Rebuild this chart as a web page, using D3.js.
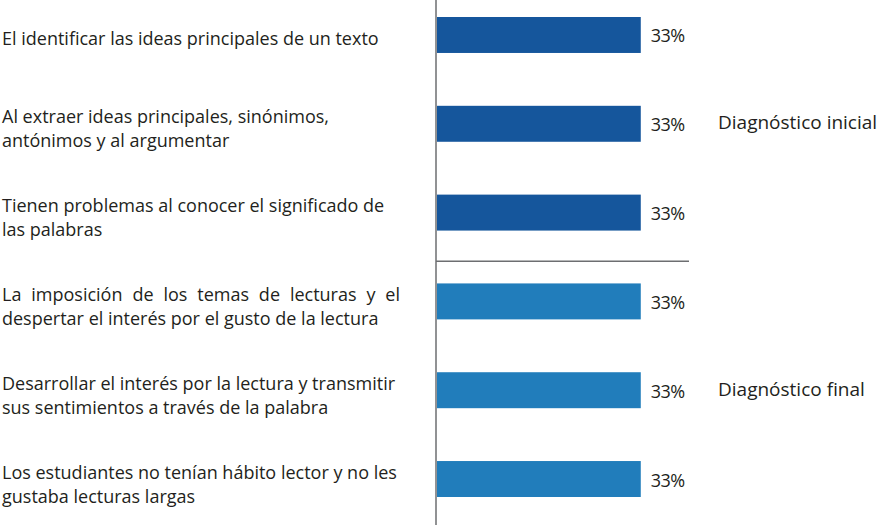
<!DOCTYPE html>
<html>
<head>
<meta charset="utf-8">
<script src="https://cdn.jsdelivr.net/npm/d3@7"></script>
<style>
body { margin: 0; background: #fff; }
text { font-family: "Open Sans", sans-serif; fill: #231f20; }
</style>
</head>
<body>
<div id="chart"></div>
<script>
var categories = [
	["El identificar las ideas principales de un texto"],
	["Al extraer ideas principales, sinónimos,", "antónimos y al argumentar"],
	["Tienen problemas al conocer el significado de", "las palabras"],
	["La imposición de los temas de lecturas y el", "despertar el interés por el gusto de la lectura"],
	["Desarrollar el interés por la lectura y transmitir", "sus sentimientos a través de la palabra"],
	["Los estudiantes no tenían hábito lector y no les", "gustaba lecturas largas"]
];
var values = [33, 33, 33, 33, 33, 33];
var groups = ["inicial", "inicial", "inicial", "final", "final", "final"];
var groupLabels = ["Diagnóstico inicial", "Diagnóstico final"];
var justified = [false, false, false, true, false, false];

var W = 890, H = 525;
var colors = {inicial: "#15569c", final: "#217dbb"};

var svg = d3.select("#chart").append("svg")
	.attr("width", W)
	.attr("height", H);

var ids = d3.range(categories.length);

var y = d3.scaleBand()
	.domain(ids)
	.range([17, 497])
	.paddingInner(0.595)
	.paddingOuter(0);

var x = d3.scaleLinear()
	.domain([0, 40])
	.range([437, 684]);

function mid(i){ return y(i) + y.bandwidth()/2; }

// bars
svg.selectAll("rect.bar")
	.data(ids)
	.enter()
	.append("rect")
	.attr("class", "bar")
	.attr("x", x(0))
	.attr("y", function(i){ return y(i); })
	.attr("width", function(i){ return x(values[i]) - x(0); })
	.attr("height", y.bandwidth())
	.attr("fill", function(i){ return colors[groups[i]]; });

// value labels
svg.selectAll("text.val")
	.data(ids)
	.enter()
	.append("text")
	.attr("class", "val")
	.attr("x", function(i){ return x(values[i]) + 10; })
	.attr("y", function(i){ return mid(i) + 7.5; })
	.attr("font-size", 18)
	.attr("letter-spacing", -0.6)
	.text(function(i){ return values[i] + "%"; });

// category labels
var lineH = 24;
ids.forEach(function(i){
	var lines = categories[i];
	var base = mid(i) + 10.5 - (lines.length - 1) * 11;
	lines.forEach(function(l, k){
		var t = svg.append("text")
			.attr("x", 2)
			.attr("y", base + k*lineH)
			.attr("font-size", 18)
			.text(l);
		if (justified[i] && k == 0){
			var len = t.node().getComputedTextLength();
			var spaces = l.split(" ").length - 1;
			t.attr("word-spacing", Math.max(0, (398 - len) / spaces));
		}
	});
});

// group labels, centred on the middle bar of each group
groupLabels.forEach(function(g, n){
	var members = ids.filter(function(i){ return groups[i] == (n == 0 ? "inicial" : "final"); });
	var m = members[Math.floor(members.length/2)];
	svg.append("text")
		.attr("x", 718)
		.attr("y", mid(m) + 5.5)
		.attr("font-size", 19)
		.text(g);
});

// axis line and group separator
svg.append("line")
	.attr("x1", x(0) - 1).attr("x2", x(0) - 1)
	.attr("y1", 0).attr("y2", H)
	.attr("stroke", "#6d6e71")
	.attr("stroke-width", 1.5);

var sepY = y(3) - y.step() * 0.25;
svg.append("line")
	.attr("x1", x(0) - 1).attr("x2", 689)
	.attr("y1", sepY).attr("y2", sepY)
	.attr("stroke", "#6d6e71")
	.attr("stroke-width", 1.5);
</script>
</body>
</html>
